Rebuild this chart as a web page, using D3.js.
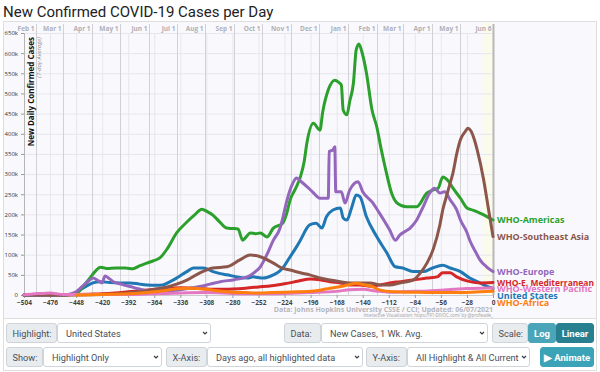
<!DOCTYPE html>
<html>
<head>
<meta charset="utf-8">
<script src="https://cdn.jsdelivr.net/npm/d3@7"></script>
<style>
  body { margin: 0; background: #fff; }
  svg { display: block; font-family: Roboto, "Open Sans", sans-serif; }
</style>
</head>
<body>
<div id="chart"></div>
<script>
// values in thousands of new cases per day (7-day avg), x = days before Jun 6 2021
const americas = [[-504,0],[-476,0],[-462,0.1],[-455,1],[-448,3],[-441,20],[-434,40],[-427,60],[-422,69],[-415,66],[-405,67],[-395,67],[-387,65],[-380,72],[-372,79],[-365,85],[-358,92],[-350,115],[-340,154],[-329,181],[-320,200],[-313,213],[-307,207],[-301,198],[-294,182],[-286,166],[-280,165],[-274,164],[-269,136],[-265,145],[-261,154],[-255,152],[-250,154],[-243,144],[-236,166],[-226,178],[-222,200],[-218,236],[-212,265],[-207,293],[-203,330],[-200,377],[-193,426],[-186,409],[-183,454],[-177,509],[-170,533],[-166,528],[-163,521],[-161,459],[-157,447],[-154,480],[-150,526],[-147,608],[-144,623],[-141,604],[-136,551],[-130,459],[-125,418],[-120,360],[-116,318],[-109,253],[-103,228],[-93,219],[-82,219],[-71,253],[-64,261],[-59,265],[-54,293],[-48,283],[-43,265],[-35,240],[-28,216],[-21,210],[-14,203],[-7,195],[0,186]];
const seAsia = [[-504,0],[-476,0],[-448,0.2],[-420,1],[-400,3],[-392,5],[-380,8],[-364,14],[-350,20],[-340,27],[-329,37],[-315,55],[-301,67],[-286,70],[-272,87],[-261,99],[-250,95],[-236,79],[-226,66],[-218,62],[-207,55],[-197,50],[-186,42],[-175,37],[-164,33],[-154,30],[-143,30],[-132,30],[-121,25],[-111,25],[-100,30],[-86,37],[-78,55],[-71,79],[-64,115],[-57,175],[-54,211],[-50,245],[-46,278],[-43,303],[-39,350],[-35,385],[-30,405],[-27,414],[-24,408],[-20,385],[-17,360],[-10,285],[-5,215],[0,145]];
const europe = [[-504,0],[-476,0],[-462,0.5],[-455,2],[-448,8],[-441,22],[-434,36],[-430,42],[-424,35],[-420,30],[-417,47],[-412,40],[-408,33],[-400,27],[-390,21],[-380,15],[-365,8],[-352,9],[-340,12],[-328,16],[-315,21],[-304,27],[-293,33],[-278,38],[-264,45],[-257,55],[-250,70],[-243,100],[-236,136],[-229,165],[-226,190],[-222,230],[-215,278],[-211,290],[-206,281],[-200,269],[-194,256],[-186,240],[-177,240],[-176,356],[-172,360],[-170,368],[-169,256],[-163,256],[-159,228],[-154,260],[-145,281],[-140,256],[-130,231],[-122,203],[-111,161],[-105,136],[-100,149],[-95,157],[-89,166],[-82,186],[-75,219],[-68,253],[-63,265],[-57,253],[-52,256],[-46,236],[-39,211],[-35,186],[-28,155],[-25,136],[-18,104],[-14,87],[-7,70],[0,58]];
const eMed = [[-504,0],[-476,0],[-462,0.3],[-448,1],[-434,2],[-420,3],[-406,5],[-392,8],[-378,11],[-364,14],[-350,17],[-336,18],[-322,17],[-308,15],[-294,14],[-280,15],[-266,17],[-252,20],[-238,23],[-224,28],[-210,34],[-196,40],[-186,38],[-175,33],[-164,30],[-154,25],[-143,25],[-132,22],[-121,25],[-111,30],[-100,33],[-86,37],[-71,42],[-60,45],[-54,55],[-46,55],[-39,45],[-28,35],[-14,30],[0,31]];
const wPacific = [[-504,0.5],[-497,2],[-490,3.5],[-483,4],[-476,5],[-469,3],[-462,1],[-448,1],[-420,1.5],[-392,1.5],[-364,3],[-336,5],[-308,6],[-280,4],[-252,3],[-224,4],[-196,6],[-168,9],[-154,13],[-140,14],[-126,10],[-112,7],[-98,8],[-84,9],[-70,10],[-56,12],[-42,14],[-28,16],[-14,17],[0,17.5]];
const unitedStates = [[-504,0],[-476,0],[-462,0.1],[-455,1],[-448,5],[-444,12],[-437,22],[-430,30],[-422,33],[-412,31],[-401,30],[-390,30],[-380,27],[-372,25],[-362,24],[-355,25],[-347,33],[-340,42],[-329,58],[-322,67],[-311,67],[-301,58],[-293,53],[-286,50],[-275,45],[-264,42],[-258,45],[-247,42],[-236,50],[-229,60],[-226,67],[-218,95],[-211,120],[-207,136],[-197,174],[-190,178],[-184,166],[-179,194],[-172,211],[-164,216],[-161,191],[-157,186],[-152,216],[-147,248],[-143,244],[-136,194],[-125,145],[-114,104],[-105,70],[-97,67],[-86,58],[-75,58],[-65,67],[-54,74],[-46,67],[-35,58],[-25,42],[-14,30],[-7,22],[0,16.5]];
const africa = [[-448,0],[-434,0.5],[-420,1],[-406,2],[-392,3],[-378,5],[-364,8],[-350,12],[-336,16],[-322,17],[-308,14],[-294,10],[-280,7],[-266,6],[-252,5],[-238,6],[-224,7],[-210,8],[-196,9],[-186,12],[-175,17],[-164,21],[-154,26],[-147,29],[-140,26],[-130,21],[-121,12],[-107,8],[-93,7],[-79,7],[-65,6],[-51,6],[-37,6],[-23,7],[-14,8],[0,9]];

const seriesNames = ["United States", "WHO-E. Mediterranean", "WHO-Americas", "WHO-Europe", "WHO-Southeast Asia", "WHO-Western Pacific", "WHO-Africa"];
const seriesData = [unitedStates, eMed, americas, europe, seAsia, wPacific, africa];
const seriesColors = ["#1f77b4", "#d62728", "#2ca02c", "#9467bd", "#8c564b", "#e377c2", "#ff7f0e"];

const lastDate = "2021-06-06";
const monthDates = ["2020-02-01","2020-03-01","2020-04-01","2020-05-01","2020-06-01","2020-07-01","2020-08-01","2020-09-01","2020-10-01","2020-11-01","2020-12-01","2021-01-01","2021-02-01","2021-03-01","2021-04-01","2021-05-01"];
const xTicks = d3.range(-504, 1, 28);
const yTicks = d3.range(0, 650001, 50000);

const W = 600, H = 372;
const svg = d3.select("#chart").append("svg").attr("width", W).attr("height", H);

// title
svg.append("text").attr("x", 3).attr("y", 17)
  .attr("font-size", 15).attr("fill", "#222")
  .text("New Confirmed COVID-19 Cases per Day");

// outer box + chart panel
svg.append("rect").attr("x", 3.5).attr("y", 21.5).attr("width", 593).attr("height", 349)
  .attr("fill", "#fff").attr("stroke", "#dedede");
svg.append("rect").attr("x", 4).attr("y", 22).attr("width", 592).attr("height", 296)
  .attr("fill", "#f9f9fd");
svg.append("line").attr("x1", 3.5).attr("x2", 596.5).attr("y1", 318.5).attr("y2", 318.5)
  .attr("stroke", "#dedede");

const x = d3.scaleLinear().domain([-504, 0]).range([24, 493]);
const y = d3.scaleLinear().domain([0, 650000]).range([295, 33]);

// last days band
svg.append("rect").attr("x", x(-11)).attr("y", 23).attr("width", x(0) - x(-11)).attr("height", 272)
  .attr("fill", "#fbfbec");

// grids
svg.append("g").selectAll("line").data(yTicks).join("line")
  .attr("x1", 24).attr("x2", 493).attr("y1", d => y(d) + 0.5).attr("y2", d => y(d) + 0.5)
  .attr("stroke", "#e6e6ee");
svg.append("g").selectAll("line").data(xTicks).join("line")
  .attr("x1", d => x(d) + 0.5).attr("x2", d => x(d) + 0.5).attr("y1", 33).attr("y2", 295)
  .attr("stroke", "#e6e6ee");

// month lines and labels
const parse = d3.timeParse("%Y-%m-%d");
const endD = parse(lastDate);
const fmt = d3.timeFormat("%b %-d");
const months = monthDates.map(s => { const d = parse(s); return { day: -d3.timeDay.count(d, endD), label: fmt(d) }; });
months.push({ day: 0, label: fmt(endD) });
const mg = svg.append("g");
mg.selectAll("line").data(months).join("line")
  .attr("x1", d => Math.round(x(d.day)) + 0.5).attr("x2", d => Math.round(x(d.day)) + 0.5)
  .attr("y1", 24).attr("y2", 295)
  .attr("stroke", d => d.day === 0 ? "#b8b8b8" : "#d2d2d6")
  .attr("stroke-width", d => d.day === 0 ? 2 : 1);
mg.selectAll("text").data(months).join("text")
  .attr("x", d => Math.round(x(d.day)) - 1.5).attr("y", 31)
  .attr("text-anchor", "end").attr("font-size", 6.5).attr("font-weight", 700)
  .attr("font-family", "'Open Sans', sans-serif").attr("fill", "#b0b0b8")
  .text(d => d.label);

// axes
const yAxis = svg.append("g").attr("transform", "translate(24,0)")
  .call(d3.axisLeft(y).tickValues(yTicks).tickSize(3).tickFormat(d => d === 0 ? "0" : d / 1000 + "k"));
yAxis.select(".domain").attr("stroke", "#b5b5b5");
yAxis.selectAll(".tick line").attr("stroke", "#999");
yAxis.selectAll("text").attr("font-size", 6).attr("fill", "#333").attr("font-family", "'Open Sans', sans-serif");

const xAxis = svg.append("g").attr("transform", "translate(0,295)")
  .call(d3.axisBottom(x).tickValues(xTicks).tickSize(3));
xAxis.select(".domain").attr("stroke", "#ccc");
xAxis.selectAll(".tick line").attr("stroke", "#999");
xAxis.selectAll("text").attr("font-size", 6.5).attr("font-weight", 700).attr("fill", "#444")
  .attr("font-family", "'Open Sans', sans-serif").attr("dy", "0.6em");

// axis title
svg.append("text").attr("transform", "translate(34,37) rotate(-90)")
  .attr("text-anchor", "end").attr("font-size", 8).attr("font-weight", 700).attr("fill", "#111")
  .attr("font-family", "'Open Sans', sans-serif")
  .text("New Daily Confirmed Cases");
svg.append("text").attr("transform", "translate(40.5,37) rotate(-90)")
  .attr("text-anchor", "end").attr("font-size", 6).attr("font-style", "italic").attr("fill", "#888")
  .attr("font-family", "'Open Sans', sans-serif")
  .text("(7-day Average)");

// series
const line = d3.line().x(d => x(d[0])).y(d => y(d[1] * 1000)).curve(d3.curveMonotoneX);
svg.append("g").selectAll("path").data(seriesData).join("path")
  .attr("d", line).attr("fill", "none")
  .attr("stroke", (d, i) => seriesColors[i]).attr("stroke-width", 3)
  .attr("stroke-linejoin", "round").attr("stroke-linecap", "round");

// end labels, spread apart to avoid overlap
const ends = seriesData.map((s, i) => ({ name: seriesNames[i], color: seriesColors[i], y: y(s[s.length - 1][1] * 1000) }))
  .sort((a, b) => a.y - b.y);
for (let i = 1; i < ends.length; i++) if (ends[i].y < ends[i - 1].y + 6.8) ends[i].y = ends[i - 1].y + 6.8;
svg.append("g").selectAll("text").data(ends).join("text")
  .attr("x", 497).attr("y", d => d.y).attr("dy", "0.35em")
  .attr("font-size", 9).attr("font-weight", 700).attr("font-family", "'Open Sans', sans-serif")
  .attr("fill", d => d.color).text(d => d.name)
  .each(function () {
    // squeeze labels that would run past the panel edge
    if (this.getComputedTextLength() > 97) {
      d3.select(this).attr("textLength", 97).attr("lengthAdjust", "spacingAndGlyphs");
    }
  });

// credits
svg.append("text").attr("x", 493).attr("y", 311.5).attr("text-anchor", "end")
  .attr("font-size", 7).attr("font-weight", 700).attr("fill", "#b5b5bb")
  .attr("font-family", "'Open Sans', sans-serif")
  .text("Data: Johns Hopkins University CSSE / CCI; Updated: 06/07/2021");
svg.append("text").attr("x", 493).attr("y", 316.5).attr("text-anchor", "end")
  .attr("font-size", 4.4).attr("fill", "#999")
  .attr("font-family", "'Open Sans', sans-serif")
  .text("Interactive Visualization: https://91-DIVOC.com/ by @profwade_");

// controls
const controls = [
  { t: "addon", x: 6, y: 323, w: 51, text: "Highlight:" },
  { t: "select", x: 57, y: 323, w: 154, text: "United States" },
  { t: "addon", x: 284, y: 323, w: 37, text: "Data:" },
  { t: "select", x: 321, y: 323, w: 167, text: "New Cases, 1 Wk. Avg." },
  { t: "addon", x: 492, y: 323, w: 36, text: "Scale:" },
  { t: "button", x: 528, y: 323, w: 28, text: "Log", fill: "#4aa5b8" },
  { t: "button", x: 556, y: 323, w: 38, text: "Linear", fill: "#287f90" },
  { t: "addon", x: 6, y: 347, w: 37, text: "Show:" },
  { t: "select", x: 43, y: 347, w: 119, text: "Highlight Only" },
  { t: "addon", x: 166, y: 347, w: 41, text: "X-Axis:" },
  { t: "select", x: 207, y: 347, w: 156, text: "Days ago, all highlighted data" },
  { t: "addon", x: 366, y: 347, w: 41, text: "Y-Axis:" },
  { t: "select", x: 407, y: 347, w: 123, text: "All Highlight & All Current" },
  { t: "button", x: 540, y: 347, w: 54, text: "\u25B6 Animate", fill: "#3ba3b7" }
];
const cg = svg.append("g");
controls.forEach(c => {
  const h = 19;
  cg.append("rect").attr("x", c.x + 0.5).attr("y", c.y + 0.5).attr("width", c.w - 1).attr("height", h)
    .attr("rx", 2.5)
    .attr("fill", c.t === "addon" ? "#e9ecef" : c.t === "select" ? "#fff" : c.fill)
    .attr("stroke", c.t === "button" ? c.fill : "#ced4da");
  const tx = c.t === "button" ? c.x + c.w / 2 : c.x + (c.t === "addon" ? 6.5 : 9);
  cg.append("text").attr("x", tx).attr("y", c.y + 13.5)
    .attr("text-anchor", c.t === "button" ? "middle" : "start")
    .attr("font-size", c.t === "button" ? 9.5 : 9.2)
    .attr("font-weight", c.t === "button" ? 700 : 400)
    .attr("fill", c.t === "button" ? "#fff" : "#495057")
    .text(c.text);
  if (c.t === "select") {
    const cx = c.x + c.w - 6, cy = c.y + 10;
    cg.append("path").attr("d", `M${cx - 2},${cy - 1}L${cx},${cy + 1}L${cx + 2},${cy - 1}`)
      .attr("fill", "none").attr("stroke", "#343a40").attr("stroke-width", 1.1);
  }
});
</script>
</body>
</html>
